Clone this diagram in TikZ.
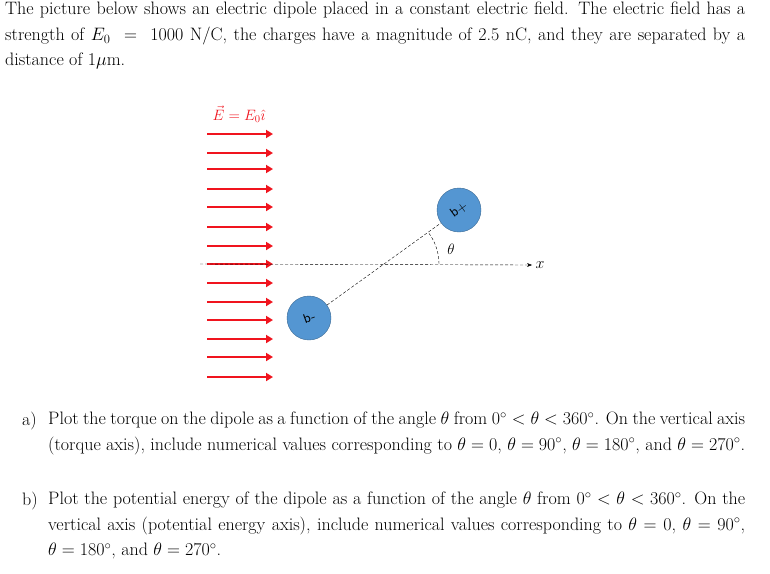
\RequirePackage{fix-cm}
\documentclass[tikz,border=0pt]{standalone}
\usepackage{amsmath,amssymb}
\usepackage{tikz}
\usetikzlibrary{arrows.meta,positioning}
\usepackage{xcolor}
\definecolor{chargeblue}{RGB}{84,150,210}
\definecolor{fieldred}{RGB}{240,20,30}
\newcommand{\txtsize}{\fontsize{18}{25.5}\selectfont}

\begin{document}
\begin{tikzpicture}[x=1pt,y=-1pt,
	fieldarrow/.style={fieldred,line width=2.2pt,-{Triangle[length=7pt,width=8pt]}},
	charge/.style={circle,fill=chargeblue,draw=chargeblue!70!black,thin,minimum size=44pt,inner sep=0pt},
	qlabel/.style={font=\sffamily\fontsize{14}{14}\selectfont},
	para/.style={align=justify,anchor=north west,inner sep=0pt,font=\txtsize}]
	\useasboundingbox (0,0) rectangle (770,573);

	\node[para,text width=740pt] (intro) at (5,2) {The picture below shows an electric dipole placed in a constant electric field. The electric field has a strength of $E_0\ =\ 1000$ N/C, the charges have a magnitude of 2.5 nC, and they are separated by a distance of 1$\mu$m.};

	% field
	\node[fieldred,font=\fontsize{15}{15}\selectfont] (Elabel) at (239,114) {$\vec{E}=E_0\hat{\imath}$};
	\foreach \yy in {134,153,169,189,207,227,246,264,283,302,320,339,357,377}
		\draw[fieldarrow] (207,\yy) -- (273,\yy);

	% axis and dipole
	\node[font=\fontsize{16}{16}\selectfont] (xlabel) at (540,265) {$x$};
	\coordinate (axisstart) at (200,264);
	\draw[densely dashed,-{Stealth[length=5pt]}] (axisstart) -- (xlabel.west);
	\node[charge] (plus) at (459,210) {};
	\node[charge] (minus) at (309,318) {};
	\node[qlabel,rotate=216] (plustext) at (plus) {+q};
	\node[qlabel,rotate=200] (minustext) at (minus) {-q};
	\draw[densely dashed] (minus) -- (plus);
	\draw[densely dashed] (387+52,264) arc[start angle=0,end angle=-36,radius=52];
	\node[font=\fontsize{15}{15}\selectfont] (theta) at (451,249) {$\theta$};

	% questions
	\node[para] (qa) at (22,412) {a)};
	\node[para,text width=697pt] (qatext) at (48,412) {Plot the torque on the dipole as a function of the angle $\theta$ from $0^\circ<\theta<360^\circ$. On the vertical axis (torque axis), include numerical values corresponding to $\theta=0$, $\theta=90^\circ$, $\theta=180^\circ$, and $\theta=270^\circ$.};
	\node[para] (qb) at (22,492) {b)};
	\node[para,text width=697pt] (qbtext) at (48,492) {Plot the potential energy of the dipole as a function of the angle $\theta$ from $0^\circ<\theta<360^\circ$. On the vertical axis (potential energy axis), include numerical values corresponding to $\theta=0$, $\theta=90^\circ$, $\theta=180^\circ$, and $\theta=270^\circ$.};
\end{tikzpicture}
\end{document}
